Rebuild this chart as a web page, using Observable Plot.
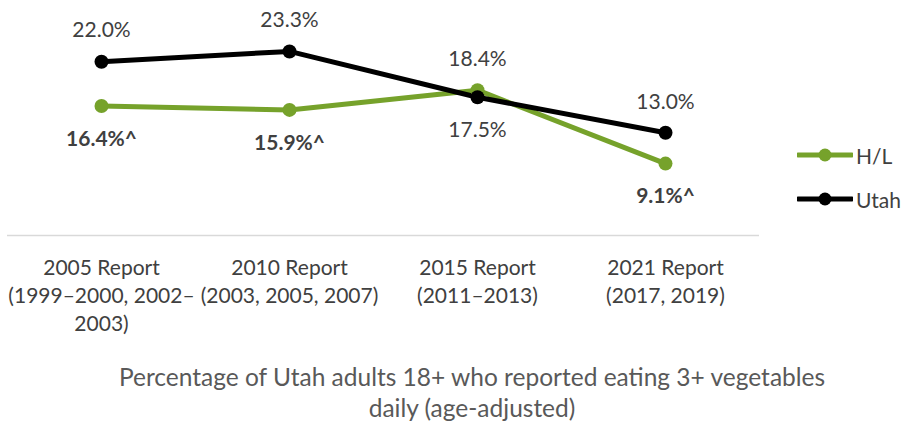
<!DOCTYPE html>
<html>
<head>
<meta charset="utf-8">
<script src="https://cdn.jsdelivr.net/npm/d3@7"></script>
<script src="https://cdn.jsdelivr.net/npm/@observablehq/plot@0.6"></script>
<style>
  html, body { margin: 0; padding: 0; background: #fff; }
  #wrap { position: relative; width: 906px; height: 423px; font-family: Lato, "Open Sans", sans-serif; color: #404040; }
  #legend { position: absolute; left: 797px; top: 141px; font-size: 21px; }
  .li { display: flex; align-items: center; height: 28px; margin-bottom: 16px; }
  .li span { margin-left: 3px; }
  #caption { position: absolute; left: 102px; top: 361px; width: 740px; text-align: center; font-size: 24.5px; line-height: 31px; color: #595959; }
</style>
</head>
<body>
<div id="wrap">
  <div id="chart"></div>
  <div id="legend"></div>
  <div id="caption">Percentage of Utah adults 18+ who reported eating 3+ vegetables daily (age-adjusted)</div>
</div>
<script>
const categories = [
  "2005 Report\n(1999–2000, 2002–\n2003)",
  "2010 Report\n(2003, 2005, 2007)",
  "2015 Report\n(2011–2013)",
  "2021 Report\n(2017, 2019)"
];
const seriesNames = ["H/L", "Utah"];
const seriesColors = ["#76A22B", "#000000"];
const hlValues = [16.4, 15.9, 18.4, 9.1];
const utahValues = [22.0, 23.3, 17.5, 13.0];
const hlSignificant = [true, true, false, true];

const rows = [];
categories.forEach((c, i) => {
  rows.push({cat: c, series: "H/L", value: hlValues[i],
    label: hlValues[i].toFixed(1) + "%" + (hlSignificant[i] ? "^" : ""),
    bold: hlSignificant[i], above: hlValues[i] > utahValues[i]});
  rows.push({cat: c, series: "Utah", value: utahValues[i],
    label: utahValues[i].toFixed(1) + "%",
    bold: false, above: utahValues[i] > hlValues[i]});
});

const labelMarks = [];
for (const above of [true, false]) {
  for (const bold of [true, false]) {
    labelMarks.push(Plot.text(rows.filter(d => d.above === above && d.bold === bold), {
      x: "cat", y: "value", text: "label",
      dy: above ? -31 : 33,
      fill: "#404040",
      fontSize: 21,
      fontWeight: bold ? "bold" : "normal"
    }));
  }
}

const chart = Plot.plot({
  width: 906,
  height: 345,
  marginLeft: 7,
  marginRight: 147,
  marginTop: 0,
  marginBottom: 110,
  style: {fontFamily: "Lato, 'Open Sans', sans-serif", fontSize: "21px", color: "#404040", background: "#fff"},
  x: {type: "point", domain: categories, padding: 0.5},
  y: {domain: [0, 25], range: [235, 235 - 25 * 7.9], axis: null},
  color: {domain: seriesNames, range: seriesColors},
  marks: [
    Plot.ruleY([0], {stroke: "#d9d9d9", strokeWidth: 1.5}),
    Plot.line(rows, {x: "cat", y: "value", z: "series", stroke: "series", strokeWidth: 5}),
    Plot.dot(rows, {x: "cat", y: "value", fill: "series", r: 7}),
    ...labelMarks,
    Plot.axisX({tickSize: 0, tickPadding: 20, lineHeight: 1.33, fontSize: 21, fill: "#404040", label: null})
  ]
});
document.getElementById("chart").appendChild(chart);

const legend = document.getElementById("legend");
seriesNames.forEach((name, i) => {
  const item = document.createElement("div");
  item.className = "li";
  item.innerHTML = `<svg width="56" height="14"><line x1="1" y1="7" x2="55" y2="7" stroke="${seriesColors[i]}" stroke-width="5" stroke-linecap="round"/><circle cx="28" cy="7" r="6.5" fill="${seriesColors[i]}"/></svg><span>${name}</span>`;
  legend.appendChild(item);
});
</script>
</body>
</html>
